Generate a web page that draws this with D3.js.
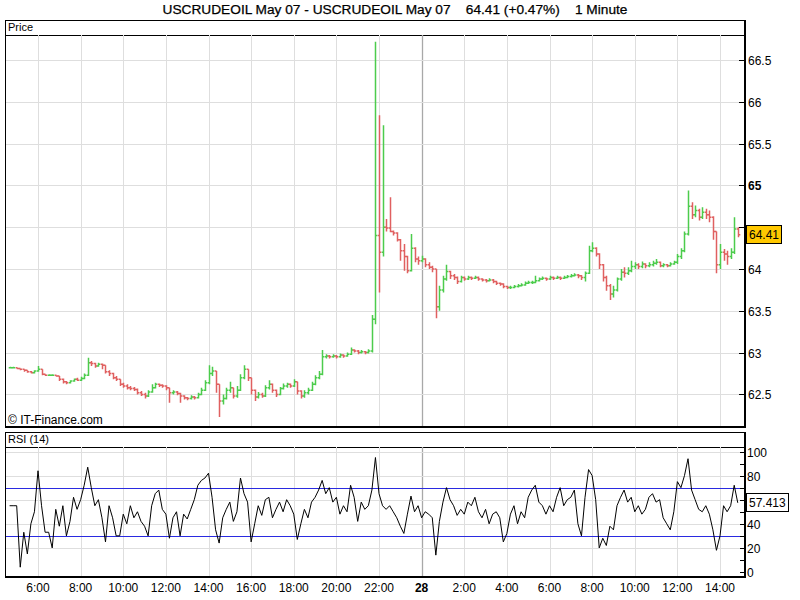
<!DOCTYPE html>
<html><head><meta charset="utf-8">
<script src="https://cdn.jsdelivr.net/npm/d3@7"></script>
<style>
html,body{margin:0;padding:0;background:#fff;}
svg{display:block;font-family:"Liberation Sans",Arial,sans-serif;}
</style></head>
<body>
<svg id="chart" width="800" height="600"></svg>
<script>
// ---------------- DATA ----------------
const titleText = "USCRUDEOIL May 07 - USCRUDEOIL May 07    64.41 (+0.47%)    1 Minute";
const lastPrice = 64.41;
const lastRsi = 57.413;
const rsiPeriod = 14;
const barStart = new Date(2007, 2, 27, 4, 40);   // first bar time
const barMinutes = 10;                            // sampling step of bars
const priceTicks = [62.5, 63, 63.5, 64, 64.5, 65, 65.5, 66, 66.5];
const boldPriceTicks = [65];
const rsiTicks = [0, 20, 40, 60, 80, 100];
const rsiMinorTicks = [10, 30, 50, 70, 90];
const rsiLevels = [30, 70];

const closes = [62.82,62.82,62.81,62.80,62.79,62.77,62.76,62.78,62.80,62.74,
62.73,62.73,62.73,62.72,62.68,62.65,62.64,62.66,62.68,62.67,
62.69,62.73,62.88,62.87,62.84,62.86,62.85,62.77,62.75,62.70,
62.68,62.62,62.60,62.58,62.57,62.56,62.52,62.50,62.48,62.53,
62.58,62.62,62.61,62.60,62.58,62.52,62.53,62.51,62.48,62.46,
62.45,62.47,62.46,62.50,62.55,62.64,62.75,62.78,62.62,62.42,
62.45,62.55,62.58,62.48,62.55,62.70,62.80,62.70,62.55,62.47,
62.50,62.48,62.58,62.62,62.55,62.50,62.57,62.60,62.62,62.60,
62.65,62.54,62.48,62.52,62.55,62.62,62.70,62.74,62.95,62.96,
62.95,62.96,62.95,62.97,62.96,62.98,63.03,63.02,63.00,63.01,
63.00,63.02,63.40,64.40,64.20,64.50,64.49,64.45,64.43,64.35,
64.22,64.15,63.98,64.25,64.12,64.10,64.12,64.05,64.02,64.00,
63.55,63.75,63.88,63.97,63.92,63.90,63.85,63.90,63.88,63.90,
63.89,63.90,63.88,63.87,63.86,63.87,63.85,63.83,63.82,63.79,
63.78,63.78,63.79,63.80,63.81,63.83,63.84,63.84,63.86,63.88,
63.89,63.88,63.90,63.89,63.90,63.89,63.90,63.91,63.92,63.93,
63.92,63.90,63.95,64.22,64.25,64.18,64.05,63.90,63.80,63.70,
63.75,63.88,63.96,63.95,63.98,64.03,64.05,64.03,64.06,64.04,
64.05,64.07,64.08,64.04,64.05,64.04,64.06,64.08,64.15,64.22,
64.42,64.75,64.65,64.70,64.62,64.68,64.65,64.62,64.45,64.05,
64.20,64.18,64.15,64.20,64.48,64.41];

const highs = [62.83,62.83,62.82,62.81,62.80,62.79,62.78,62.79,62.84,62.80,
62.74,62.74,62.74,62.73,62.72,62.69,62.66,62.67,62.69,62.70,
62.71,62.75,62.94,62.90,62.88,62.88,62.87,62.85,62.79,62.76,
62.72,62.68,62.64,62.62,62.60,62.59,62.57,62.54,62.52,62.55,
62.62,62.64,62.63,62.62,62.61,62.58,62.55,62.54,62.52,62.49,
62.47,62.49,62.48,62.52,62.58,62.67,62.85,62.83,62.78,62.62,
62.50,62.58,62.65,62.58,62.60,62.74,62.85,62.80,62.70,62.56,
62.53,62.52,62.61,62.67,62.63,62.56,62.59,62.63,62.64,62.63,
62.68,62.65,62.55,62.55,62.58,62.65,62.73,62.78,63.03,62.98,
62.97,62.98,62.97,62.99,62.98,63.00,63.06,63.04,63.03,63.03,
63.02,63.04,63.45,66.72,65.84,65.72,64.60,64.86,64.46,64.44,
64.36,64.30,64.16,64.42,64.26,64.15,64.16,64.13,64.08,64.04,
64.00,63.80,63.92,64.05,63.98,63.94,63.91,63.92,63.91,63.92,
63.91,63.92,63.91,63.89,63.88,63.89,63.88,63.86,63.84,63.83,
63.80,63.80,63.81,63.82,63.83,63.85,63.86,63.86,63.92,63.90,
63.91,63.90,63.92,63.91,63.92,63.91,63.92,63.93,63.94,63.95,
63.94,63.93,63.97,64.28,64.32,64.26,64.19,64.06,63.92,63.82,
63.80,63.90,64.00,64.02,64.02,64.10,64.08,64.07,64.09,64.07,
64.08,64.10,64.12,64.09,64.07,64.06,64.08,64.10,64.18,64.25,
64.45,64.94,64.80,64.76,64.72,64.74,64.72,64.70,64.63,64.45,
64.30,64.24,64.22,64.25,64.62,64.50];

const lows = [62.81,62.81,62.80,62.79,62.77,62.76,62.75,62.75,62.77,62.73,
62.72,62.72,62.72,62.71,62.66,62.63,62.62,62.63,62.65,62.66,
62.66,62.68,62.72,62.84,62.82,62.83,62.80,62.75,62.72,62.68,
62.66,62.60,62.58,62.56,62.55,62.54,62.50,62.48,62.45,62.47,
62.52,62.57,62.59,62.58,62.55,62.40,62.50,62.49,62.40,62.44,
62.43,62.44,62.44,62.45,62.49,62.54,62.62,62.72,62.52,62.23,
62.38,62.44,62.52,62.45,62.46,62.54,62.68,62.66,62.50,62.42,
62.45,62.46,62.47,62.56,62.52,62.47,62.49,62.56,62.58,62.58,
62.59,62.50,62.45,62.46,62.50,62.54,62.61,62.68,62.73,62.93,
62.93,62.94,62.93,62.94,62.94,62.95,62.97,63.00,62.98,62.99,
62.98,62.99,63.00,63.34,63.72,64.15,64.45,64.44,64.40,64.33,
64.10,63.98,63.95,63.97,64.08,64.05,64.08,64.02,64.00,63.96,
63.41,63.50,63.72,63.86,63.88,63.87,63.82,63.84,63.86,63.87,
63.87,63.88,63.86,63.85,63.84,63.85,63.83,63.81,63.80,63.77,
63.76,63.76,63.77,63.78,63.79,63.80,63.82,63.82,63.83,63.85,
63.87,63.86,63.87,63.87,63.88,63.87,63.88,63.89,63.90,63.91,
63.89,63.87,63.85,63.94,64.20,64.15,64.00,63.85,63.74,63.63,
63.66,63.73,63.86,63.90,63.93,63.96,64.00,64.00,64.01,64.01,
64.02,64.03,64.05,64.02,64.02,64.02,64.03,64.05,64.06,64.12,
64.20,64.40,64.60,64.62,64.58,64.60,64.60,64.56,64.35,63.95,
64.00,64.10,64.05,64.12,64.18,64.38];

const rsiValues = [55,55,55,4,33,15,40,50,84,55,
33,33,20,52,38,55,30,42,62,52,
60,72,87,70,55,60,45,25,55,45,
30,30,48,40,55,45,50,42,38,30,
55,65,68,52,48,28,45,50,30,48,
44,52,60,72,76,78,82,62,35,24,
45,52,58,42,50,78,65,58,25,40,
55,47,60,62,45,52,58,50,60,55,
48,27,40,52,45,58,62,68,76,65,
70,58,62,48,55,50,72,62,42,58,
52,55,68,95,65,55,52,55,50,45,
38,32,48,63,50,55,45,50,48,45,
14,42,58,70,60,55,47,52,48,58,
55,62,50,45,52,40,48,50,45,25,
32,48,55,40,50,45,62,68,72,58,
55,48,55,50,62,70,55,60,62,68,
40,30,62,85,80,60,20,28,22,38,
35,55,62,68,58,62,50,55,48,52,
62,65,58,60,45,40,35,50,75,70,
80,94,68,60,52,50,55,48,35,18,
30,55,50,55,72,57.413];

const xTickHourStep = 2;

// ---------------- LAYOUT ----------------
const svg = d3.select("#chart");
const L = 5, R = 745;
const pTop = 35, pBot = 427, pHead = 20;
const rTop = 447, rBot = 577, rHead = 432;
const green = "#4ccc4c", red = "#e06060";

const barTime = i => d3.timeMinute.offset(barStart, i * barMinutes);

const x = d3.scaleTime()
  .domain([new Date(2007,2,27,6,0), new Date(2007,2,28,14,0)])
  .range([38, 720]);
const yP = d3.scaleLinear().domain([62.11, 66.80]).range([pBot, pTop]);
const yR = d3.scaleLinear().domain([0, 100]).range([572, 451.5]);

const xTicks = d3.timeHour.every(xTickHourStep).range(x.invert(L), x.invert(R));

svg.append("rect").attr("width",800).attr("height",600).attr("fill","#fff");

// title
svg.append("text").attr("x",395).attr("y",14).attr("text-anchor","middle")
  .attr("font-size",13.7).style("white-space","pre").attr("fill","#000")
  .attr("stroke","#000").attr("stroke-width",0.25)
  .text(titleText);

// ---------- panels ----------
function panel(top, bot, head, label) {
  const g = svg.append("g");
  g.append("rect").attr("x",L+0.5).attr("y",head+0.5).attr("width",R-L).attr("height",top-head)
    .attr("fill","#fff").attr("stroke","#000");
  g.append("text").attr("x",L+3).attr("y",head+11).attr("font-size",11).text(label);
  // vertical grid
  g.selectAll("line.vg").data(xTicks).join("line")
    .attr("x1",d=>Math.round(x(d))+0.5).attr("x2",d=>Math.round(x(d))+0.5)
    .attr("y1",top).attr("y2",bot)
    .attr("stroke",d=>d.getHours()===0 ? "#a8a8a8" : "#dedede").attr("stroke-width",d=>d.getHours()===0?1.3:1);
  return g;
}
const gp = panel(pTop, pBot, pHead, "Price");
const gr = panel(rTop, rBot, rHead, "RSI (" + rsiPeriod + ")");

// price horizontal grid
gp.selectAll("line.hg").data(priceTicks).join("line")
  .attr("x1",L).attr("x2",R).attr("y1",d=>Math.round(yP(d))+0.5).attr("y2",d=>Math.round(yP(d))+0.5)
  .attr("stroke","#dedede");
// rsi horizontal grid
gr.selectAll("line.hg").data(rsiTicks.filter(d=>d>0)).join("line")
  .attr("x1",L).attr("x2",R).attr("y1",d=>Math.round(yR(d))+0.5).attr("y2",d=>Math.round(yR(d))+0.5)
  .attr("stroke","#dedede");

// clip paths
const defs = svg.append("defs");
defs.append("clipPath").attr("id","cp").append("rect").attr("x",L).attr("y",pTop).attr("width",R-L).attr("height",pBot-pTop);
defs.append("clipPath").attr("id","cr").append("rect").attr("x",L).attr("y",rTop).attr("width",R-L).attr("height",rBot-rTop);

// ---------- price bars ----------
const bars = closes.map((c,i)=>({t:barTime(i), o: i ? closes[i-1] : c, c, h:highs[i], l:lows[i]}));
gp.append("g").attr("clip-path","url(#cp)")
  .selectAll("path").data(bars).join("path")
  .attr("d", d => {
    const xx = Math.round(x(d.t)) + 0.5;
    return `M${xx},${yP(d.h)}V${yP(d.l)}M${xx-1.8},${yP(d.o)}H${xx}M${xx},${yP(d.c)}H${xx+1.8}`;
  })
  .attr("fill","none").attr("stroke", d => d.c >= d.o ? green : red).attr("stroke-width",1.5);

// ---------- RSI ----------
gr.selectAll("line.lv").data(rsiLevels).join("line")
  .attr("x1",L).attr("x2",R).attr("y1",d=>Math.round(yR(d))+0.5).attr("y2",d=>Math.round(yR(d))+0.5)
  .attr("stroke","#2a2ae0");
gr.append("path").attr("clip-path","url(#cr)")
  .datum(rsiValues)
  .attr("d", d3.line().x((d,i)=>x(barTime(i))).y(d=>yR(d)))
  .attr("fill","none").attr("stroke","#000").attr("stroke-width",1);

// ---------- borders & axes ----------
function frame(top, bot) {
  svg.append("line").attr("x1",L+0.5).attr("x2",L+0.5).attr("y1",top).attr("y2",bot).attr("stroke","#000");
  svg.append("line").attr("x1",L).attr("x2",R+1).attr("y1",bot).attr("y2",bot).attr("stroke","#000").attr("stroke-width",2);
  svg.append("line").attr("x1",R).attr("x2",R).attr("y1",top-15).attr("y2",bot+1).attr("stroke","#000").attr("stroke-width",2);
}
frame(pTop, pBot);
frame(rTop, rBot);

const lpY = yP(lastPrice);
const lrY = yR(lastRsi);

// price axis (labels hidden behind the last-price box are not drawn)
const pa = svg.append("g");
priceTicks.forEach(v=>{
  const yy = Math.round(yP(v))+0.5;
  pa.append("line").attr("x1",R-6).attr("x2",R).attr("y1",yy).attr("y2",yy).attr("stroke","#000");
  if (Math.abs(yy - lpY) > 14)
    pa.append("text").attr("x",R+3).attr("y",yy+4).attr("font-size",12)
      .attr("font-weight", boldPriceTicks.includes(v) ? "bold" : "normal").text(d3.format("~g")(v));
});
// rsi axis
const ra = svg.append("g");
rsiMinorTicks.concat(rsiTicks).forEach(v=>{
  const yy = Math.round(yR(v))+0.5;
  ra.append("line").attr("x1",R-5).attr("x2",R).attr("y1",yy).attr("y2",yy).attr("stroke","#000");
});
rsiTicks.forEach(v=>{
  const yy = Math.round(yR(v))+0.5;
  if (Math.abs(yy - lrY) > 12)
    ra.append("text").attr("x",R+2).attr("y",yy+4).attr("font-size",12).text(v);
});

// last price box
svg.append("rect").attr("x",R+1.5).attr("y",Math.round(lpY)-9.5).attr("width",35).attr("height",18)
  .attr("fill","#ffc800").attr("stroke","#000");
svg.append("text").attr("x",R+4).attr("y",Math.round(lpY)+4).attr("font-size",12).text(lastPrice.toFixed(2));
// last rsi box
svg.append("rect").attr("x",R+1.5).attr("y",Math.round(lrY)-9.5).attr("width",42).attr("height",18)
  .attr("fill","#fff").attr("stroke","#000");
svg.append("text").attr("x",R+4).attr("y",Math.round(lrY)+4).attr("font-size",12).text(String(lastRsi));

// x labels
svg.selectAll("text.xl").data(xTicks).join("text")
  .attr("x",d=>x(d)).attr("y",592).attr("text-anchor","middle").attr("font-size",12)
  .attr("font-weight",d=>d.getHours()===0?"bold":"normal")
  .text(d=>d.getHours()===0 ? d3.timeFormat("%-d")(d) : d.getHours()+":00");

// watermark
svg.append("text").attr("x",8).attr("y",424).attr("font-size",12).text("\u00A9 IT-Finance.com");
</script>
</body></html>
